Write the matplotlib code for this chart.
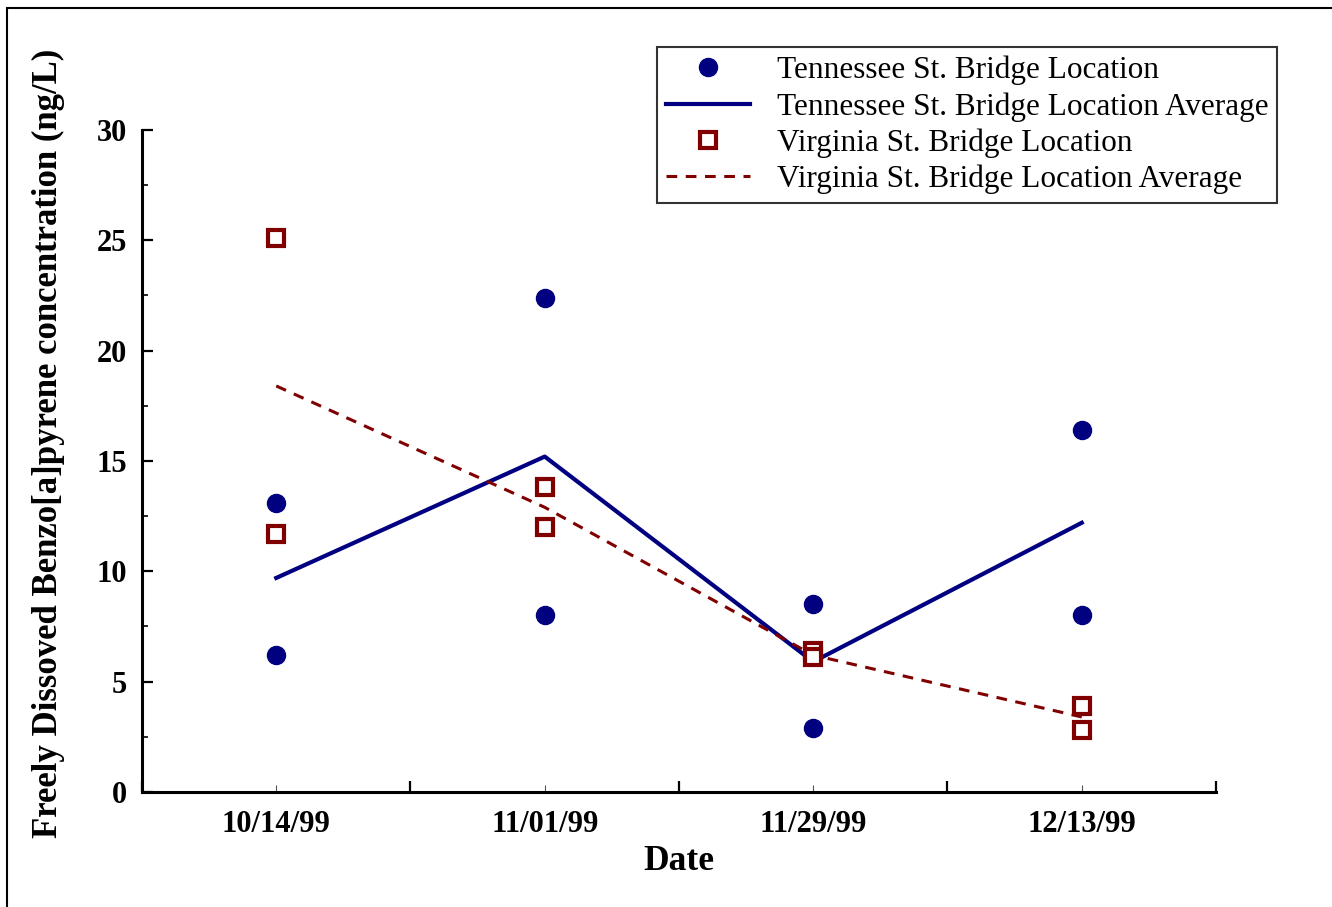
import matplotlib
matplotlib.use('Agg')
import matplotlib.pyplot as plt
from matplotlib.patches import Rectangle
from matplotlib.ticker import FixedLocator

plt.rcParams['font.family'] = 'Liberation Serif'

dates = ['10/14/99', '11/01/99', '11/29/99', '12/13/99']

# two samples per date at each bridge
tenn_a = [13.1, 22.4, 8.5, 16.4]
tenn_b = [6.2, 8.0, 2.9, 8.0]
virg_a = [25.1, 13.8, 6.4, 3.9]
virg_b = [11.7, 12.0, 6.1, 2.8]

tenn_avg = [9.7, 15.2, 5.9, 12.2]
virg_avg = [18.4, 12.9, 6.2, 3.4]

navy = '#000080'
maroon = '#800000'

fig = plt.figure(figsize=(13.32, 9.07), dpi=100)
ax = fig.add_axes([0.1066, 0.1268, 0.8063, 0.7299])

x = list(range(len(dates)))
x2 = x + x

ax.plot(x, tenn_avg, color=navy, lw=3.0, zorder=2,
        label='Tennessee St. Bridge Location Average')
ax.plot(x, virg_avg, color=maroon, lw=2.2, ls=(0, (3.5, 2.8)), zorder=2,
        label='Virginia St. Bridge Location Average')
ax.plot(x2, tenn_a + tenn_b, ls='none', marker='o', ms=13, color=navy,
        zorder=3, label='Tennessee St. Bridge Location')
ax.plot(x2, virg_a + virg_b, ls='none', marker='s', ms=12, mfc='white',
        mec=maroon, mew=3, zorder=4, label='Virginia St. Bridge Location')

ax.set_xlim(-0.5, 3.5)
ax.set_ylim(0, 30)
ax.set_yticks([0, 5, 10, 15, 20, 25, 30])
ax.yaxis.set_minor_locator(FixedLocator([2.5, 7.5, 12.5, 17.5, 22.5, 27.5]))
ax.set_xticks([-0.5, 0.5, 1.5, 2.5, 3.5])
ax.set_xticklabels([])
ax.xaxis.set_minor_locator(FixedLocator(x))
ax.set_xticklabels(dates, minor=True)

for s in ['top', 'right']:
    ax.spines[s].set_visible(False)
for s in ['left', 'bottom']:
    ax.spines[s].set_linewidth(2.2)

ax.tick_params(axis='both', which='major', direction='in', length=8, width=1.6)
ax.tick_params(axis='y', which='minor', direction='in', length=4, width=1.2)
ax.tick_params(axis='x', which='minor', direction='in', length=5, width=0.8,
               color='#555555', pad=13)
ax.tick_params(axis='y', which='major', pad=11)
for lab in ax.get_yticklabels() + ax.get_xticklabels(minor=True):
    lab.set_fontsize(22)
    lab.set_fontweight('bold')

ax.set_xlabel('Date', fontsize=25.5, fontweight='bold', labelpad=4)
ax.set_ylabel('Freely Dissoved Benzo[a]pyrene concentration (ng/L)',
              fontsize=25, fontweight='bold')
ax.yaxis.set_label_coords(-0.072, 0.526)

h, l = ax.get_legend_handles_labels()
order = [2, 0, 3, 1]
leg = ax.legend([h[i] for i in order], [l[i] for i in order],
                loc='upper left', bbox_to_anchor=(0.4795, 1.1254),
                borderaxespad=0, fontsize=22.5, frameon=True, fancybox=False,
                edgecolor='black', handlelength=2.7, handletextpad=0.85,
                labelspacing=0.22, borderpad=0.28)
leg.get_frame().set_linewidth(1.5)

# page frame around the figure
fig.patches.append(Rectangle((7 / 1332, -0.1), 1.2, 1 - 8 / 907 + 0.1,
                             transform=fig.transFigure, fill=False,
                             edgecolor='black', lw=1.5))

fig.savefig('out.png', dpi=100)
